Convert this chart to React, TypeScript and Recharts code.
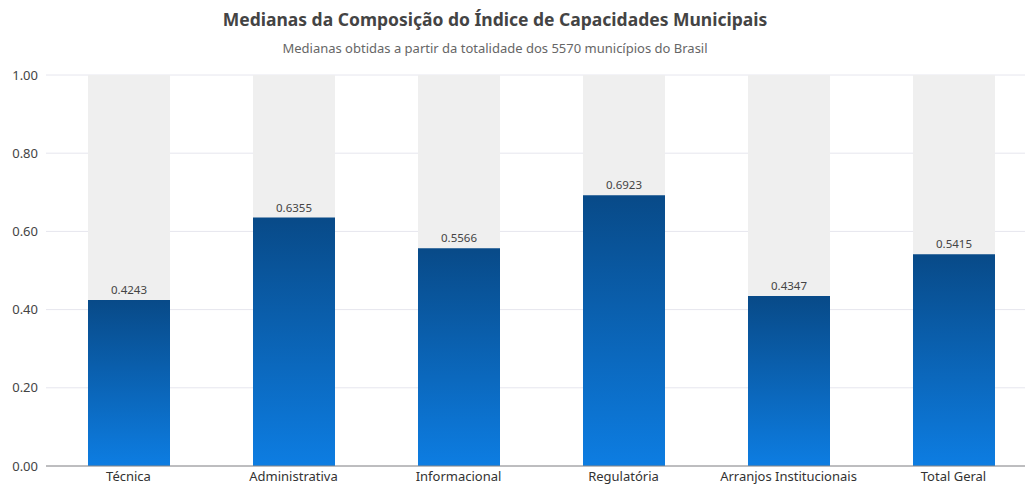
import React from "react";
import { BarChart, Bar, XAxis, YAxis, CartesianGrid, LabelList } from "recharts";

const categories = ["Técnica", "Administrativa", "Informacional", "Regulatória", "Arranjos Institucionais", "Total Geral"];
const medians = [0.4243, 0.6355, 0.5566, 0.6923, 0.4347, 0.5415];
const yTicks = [0, 0.2, 0.4, 0.6, 0.8, 1.0];

const data = categories.map((name, i) => ({ name, value: medians[i] }));

const FONT = "'Noto Sans', 'Open Sans', sans-serif";

const App = () => {
  return (
    <div
      style={{
        position: "absolute",
        left: 0,
        top: 0,
        width: 1025,
        height: 484,
        overflow: "hidden",
        background: "#fff",
        fontFamily: FONT,
      }}
    >
      <div
        style={{
          position: "absolute",
          top: 7,
          left: 0,
          width: 990,
          textAlign: "center",
          fontSize: 17.5,
          fontWeight: "bold",
          color: "#444",
        }}
      >
        Medianas da Composição do Índice de Capacidades Municipais
      </div>
      <div
        style={{
          position: "absolute",
          top: 39,
          left: 0,
          width: 990,
          textAlign: "center",
          fontSize: 13,
          color: "#666",
        }}
      >
        Medianas obtidas a partir da totalidade dos 5570 municípios do Brasil
      </div>
      <div style={{ position: "absolute", left: 0, top: 0 }}>
        <BarChart
          width={1040}
          height={484}
          data={data}
          margin={{ top: 75, right: 4, bottom: 0, left: 0 }}
        >
          <defs>
            <linearGradient id="barGrad" x1="0" y1="0" x2="0" y2="1">
              <stop offset="0%" stopColor="#084a88" />
              <stop offset="100%" stopColor="#0d7de2" />
            </linearGradient>
          </defs>
          <CartesianGrid vertical={false} stroke="#e6e6ee" />
          <XAxis
            dataKey="name"
            height={18}
            tickLine={false}
            tickMargin={0}
            stroke="#888"
            tick={{ fill: "#333", fontSize: 13, fontFamily: FONT }}
          />
          <YAxis
            width={46}
            domain={[0, 1]}
            ticks={yTicks}
            tickFormatter={(v: number) => v.toFixed(2)}
            axisLine={false}
            tickLine={false}
            tick={{ fill: "#444", fontSize: 13, fontFamily: FONT }}
          />
          <Bar
            dataKey="value"
            barSize={82}
            fill="url(#barGrad)"
            background={{ fill: "#efefef" }}
            isAnimationActive={false}
          >
            <LabelList
              dataKey="value"
              position="top"
              offset={6}
              style={{ fill: "#444", fontSize: 11.5, fontFamily: FONT }}
              formatter={(v: any) => Number(v).toFixed(4)}
            />
          </Bar>
        </BarChart>
      </div>
    </div>
  );
};

export default App;
